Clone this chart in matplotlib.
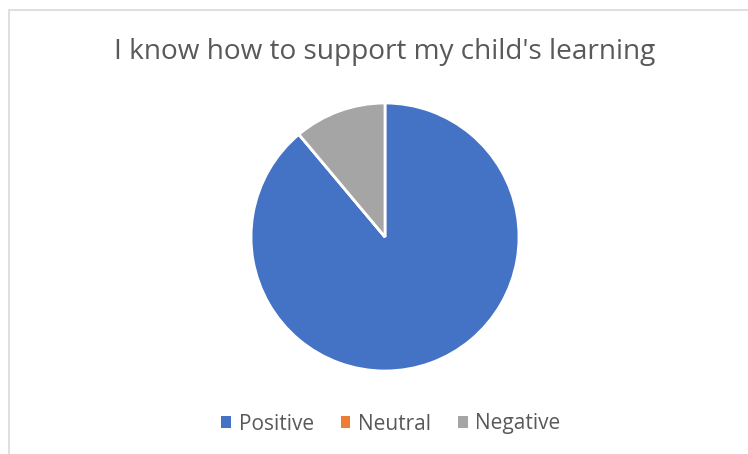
import matplotlib.pyplot as plt
from matplotlib.patches import Rectangle, Patch

labels = ["Positive", "Neutral", "Negative"]
values = [8, 0, 1]
colors = ["#4472C4", "#ED7D31", "#A5A5A5"]

W, H = 748, 454
fig = plt.figure(figsize=(W / 100, H / 100), dpi=100)
fig.patch.set_facecolor("white")

# chart frame (cropped on the right and bottom)
fig.patches.append(Rectangle((8.5 / W, -0.1), 1.2, 1.1 - 10.5 / H,
                             transform=fig.transFigure, fill=False,
                             edgecolor="#D9D9D9", linewidth=1.2))

fig.text(385 / W, 1 - 52 / H, "I know how to support my child's learning",
         ha="center", va="center", fontsize=20.2, color="#595959",
         family="Open Sans")

cx, cy, r = 385, 237, 134
ax = fig.add_axes([(cx - r) / W, (H - cy - r) / H, 2 * r / W, 2 * r / H])
ax.pie(values, colors=colors, startangle=90, counterclock=False,
       wedgeprops=dict(edgecolor="white", linewidth=2))
ax.set_xlim(-1.0, 1.0)
ax.set_ylim(-1.0, 1.0)
ax.set_aspect("equal")
ax.axis("off")

handles = [Patch(facecolor=c, edgecolor="none") for c in colors]
fig.legend(handles, labels, loc="center", bbox_to_anchor=(391 / W, 1 - 424 / H),
           ncol=3, frameon=False, handlelength=0.45, handleheight=0.45,
           handletextpad=0.38, columnspacing=1.3,
           prop=dict(family="Open Sans", size=15), labelcolor="#595959")

fig.savefig("out.png", dpi=100)
